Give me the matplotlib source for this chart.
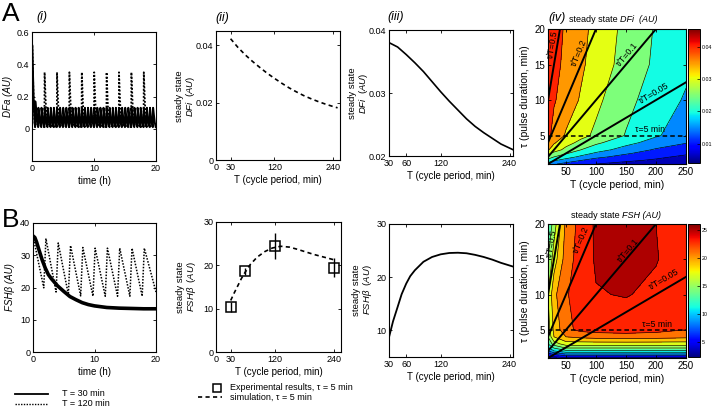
import numpy as np
import matplotlib
matplotlib.use('Agg')
import matplotlib.pyplot as plt
from matplotlib.lines import Line2D
from matplotlib.cm import ScalarMappable
from matplotlib.colors import Normalize

plt.rcParams['font.family'] = ['Liberation Sans', 'DejaVu Sans']
plt.rcParams['mathtext.fontset'] = 'custom'
plt.rcParams['mathtext.it'] = 'Liberation Sans:italic'
plt.rcParams['mathtext.rm'] = 'Liberation Sans'

W, H = 713, 412

# ---------------- data ----------------
# A(i): DFa time courses (pulse peaks)
dfa_peaks_30 = [0.52, 0.17] + [0.13] * 38      # T = 30 min, one pulse every 0.5 h
dfa_peaks_120 = [0.52] + [0.35] * 9             # T = 120 min, one pulse every 2 h
dfa_base = 0.01
pulse_dt = [0.0, 0.03, 0.10, 0.20, 0.30, 0.42]  # shape of one pulse (h after onset)
pulse_frac = [0.0, 1.0, 0.8, 0.5, 0.25, 0.05]

# A(ii): simulated steady-state DFi vs T (dashed)
T_sim_A2 = [30, 45, 60, 75, 90, 105, 120, 135, 150, 165, 180, 195, 210, 225, 240, 250]
dfi_sim_A2 = [0.0423, 0.0393, 0.0367, 0.0344, 0.0323, 0.0303, 0.0285, 0.0268, 0.0252,
              0.0238, 0.0225, 0.0214, 0.0204, 0.0195, 0.0187, 0.0182]

# A(iii): steady-state DFi vs T
T_A3 = [30, 45, 60, 75, 90, 105, 120, 135, 150, 165, 180, 195, 210, 225, 246]
dfi_A3 = [0.0380, 0.0373, 0.0361, 0.0348, 0.0334, 0.0318, 0.0302, 0.0287, 0.0273,
          0.0259, 0.0247, 0.0237, 0.0228, 0.0219, 0.0210]

# B(i): FSHb time courses
t_B1_30 = [0, 0.3, 0.6, 1, 1.5, 2, 2.5, 3, 4, 5, 6, 7, 8, 9, 10, 12, 14, 16, 18, 20]
fsh_B1_30 = [36, 35.5, 34, 31.5, 28.5, 26, 24, 22.7, 20.5, 18.8, 17.2, 16.2, 15.3, 14.7,
             14.3, 13.8, 13.6, 13.5, 13.4, 13.4]
fsh_peaks_120 = [36, 35.2, 33.8, 33.0, 32.4, 32.2, 32.2, 32.2, 32.2, 32.2]
fsh_troughs_120 = [19.9, 18.6, 17.8, 17.4, 17.3, 17.3, 17.3, 17.3, 17.3, 18.6]

# B(ii): experiments and simulation
T_exp = [30, 60, 120, 240]
fsh_exp = [10.4, 18.6, 24.4, 19.4]
fsh_err = [1.2, 0.9, 3.0, 2.2]
T_sim_B2 = [30, 37, 45, 52, 60, 70, 84, 100, 115, 132, 150, 166, 183, 200, 220, 240]
fsh_sim_B2 = [11.9, 13.6, 15.4, 17.0, 18.5, 20.2, 21.9, 23.2, 24.0, 24.4, 24.2, 23.7,
              23.1, 22.5, 21.9, 21.3]

# B(iii): steady-state FSHb vs T
T_B3 = [30, 37, 45, 52, 60, 67, 75, 90, 105, 120, 135, 150, 165, 180, 195, 210, 225, 246]
fsh_B3 = [8.7, 11.7, 14.4, 16.8, 18.8, 20.2, 21.3, 22.9, 23.8, 24.3, 24.55, 24.6, 24.5,
          24.2, 23.8, 23.3, 22.7, 22.0]

# (iv) maps: T (cycle period) x tau (pulse duration)
T_map = [20, 30, 50, 75, 100, 150, 200, 250]
tau_map = [1, 1.5, 2, 2.5, 3, 4, 5, 10, 15, 20]
dfi_map = [
    [0.015, 0.013, 0.011, 0.009, 0.008, 0.0065, 0.0055, 0.0045],
    [0.020, 0.0175, 0.015, 0.0125, 0.0108, 0.0088, 0.0073, 0.006],
    [0.025, 0.022, 0.019, 0.016, 0.0135, 0.011, 0.009, 0.007],
    [0.029, 0.026, 0.0225, 0.019, 0.0163, 0.013, 0.0105, 0.0088],
    [0.033, 0.030, 0.026, 0.022, 0.019, 0.015, 0.012, 0.0105],
    [0.0365, 0.033, 0.0295, 0.026, 0.023, 0.0185, 0.015, 0.0127],
    [0.039, 0.0355, 0.032, 0.029, 0.0265, 0.0217, 0.0175, 0.0145],
    [0.041, 0.038, 0.035, 0.032, 0.0287, 0.0235, 0.0195, 0.0165],
    [0.0415, 0.039, 0.0363, 0.0333, 0.0305, 0.0255, 0.021, 0.018],
    [0.042, 0.040, 0.0367, 0.0339, 0.0311, 0.0261, 0.0215, 0.0185],
]
fsh_map = [
    [3, 3, 3.5, 3.5, 3.5, 3.5, 3.5, 3.5],
    [5, 6, 7.5, 7.5, 7.5, 7.5, 7.5, 7.5],
    [8, 10, 11.5, 11.5, 11.5, 11.5, 11.5, 11.5],
    [10, 12.5, 14.5, 14.5, 14.5, 14.5, 14.5, 14.5],
    [12, 15, 17, 17, 17, 17, 17, 17],
    [14, 18, 20, 20.5, 20.8, 21, 20.8, 20.5],
    [15, 18.5, 21.5, 22.5, 22.8, 23, 22.7, 22],
    [16, 19.5, 21.8, 23, 23.9, 24.1, 23.6, 23],
    [14, 17, 21, 23, 24.2, 25.5, 24.1, 23],
    [12, 15, 20.5, 22.8, 24.3, 25.5, 24.0, 22.8],
]
ratios = [0.5, 0.2, 0.1, 0.05]
ratio_labels = ['τ/T=0.5', 'τ/T=0.2', 'τ/T=0.1', 'τ/T=0.05']

# ---------------- helpers ----------------
fig = plt.figure(figsize=(W / 100, H / 100), dpi=100)


def add_ax(l, r, t, b):
    return fig.add_axes([l / W, 1 - b / H, (r - l) / W, (b - t) / H])


def style(ax):
    ax.tick_params(direction='in', top=True, right=True, length=2.5, width=0.6,
                   labelsize=6.5, pad=2)
    for s in ax.spines.values():
        s.set_linewidth(0.8)


def ftext(x, y, s, **kw):
    fig.text(x / W, 1 - y / H, s, **kw)


def ylab2(x, y, top_line, it_line):
    ftext(x, y, top_line + '\n' + r'$\mathit{' + it_line + '}$', rotation=90,
          ha='center', va='center', fontsize=6.8, linespacing=1.05, multialignment='center')


def pulses(peaks, period, base):
    t, v = [], []
    for k, p in enumerate(peaks):
        t0 = k * period
        for dt, f in zip(pulse_dt, pulse_frac):
            t.append(t0 + dt)
            v.append(base + (p - base) * f)
    t.append(20.0)
    v.append(base)
    return t, v


# ---------------- A(i) ----------------
ax = add_ax(32, 156, 32, 161)
t, v = pulses(dfa_peaks_30, 0.5, dfa_base)
ax.plot(t, v, color='k', lw=1.4)
t, v = pulses(dfa_peaks_120, 2.0, dfa_base)
ax.plot(t, v, color='k', lw=1.3, ls=(0, (1, 1)))
ax.set_xlim(0, 20)
ax.set_ylim(-0.2, 0.6)
ax.set_xticks([0, 10, 20])
ax.set_yticks([0, 0.2, 0.4, 0.6])
ax.set_yticklabels(['0', '0.2', '0.4', '0.6'])
style(ax)
ax.set_xlabel('time (h)', fontsize=7, labelpad=2)
ftext(8, 96, 'DFa (AU)', rotation=90, ha='center', va='center', fontsize=7, style='italic')

# ---------------- A(ii) ----------------
ax = add_ax(216, 340, 31, 160)
ax.plot(T_sim_A2, dfi_sim_A2, color='k', lw=1.2, ls=(0, (2.5, 2)))
ax.set_xlim(0, 255)
ax.set_ylim(0, 0.045)
ax.set_xticks([0, 30, 120, 240])
ax.set_yticks([0, 0.02, 0.04])
ax.set_yticklabels(['0', '0.02', '0.04'])
style(ax)
ax.set_xlabel('T (cycle period, min)', fontsize=7, labelpad=2)
ylab2(186, 96, 'steady state', r'DFi\ \ (AU)')

# ---------------- A(iii) ----------------
ax = add_ax(389, 513, 30, 156)
ax.plot(T_A3, dfi_A3, color='k', lw=1.2)
ax.set_xlim(30, 246)
ax.set_ylim(0.02, 0.04)
ax.set_xticks([30, 60, 120, 240])
ax.set_yticks([0.02, 0.03, 0.04])
ax.set_yticklabels(['0.02', '0.03', '0.04'])
style(ax)
ax.set_xlabel('T (cycle period, min)', fontsize=7, labelpad=2)
ylab2(359, 93, 'steady state', r'DFi\ \ (AU)')


# ---------------- maps ----------------
def draw_map(top, bot, Z, levels, vmin, vmax, cticks, cticklabels, lab_pos, t5_pos):
    ax = add_ax(548, 686, top, bot)
    norm = Normalize(vmin=vmin, vmax=vmax)
    ax.contourf(T_map, tau_map, Z, levels=levels, cmap='jet', norm=norm, extend='both')
    ax.contour(T_map, tau_map, Z, levels=levels, colors='k', linewidths=0.45)
    for r, lab, (px, py) in zip(ratios, ratio_labels, lab_pos):
        T_end = min(250, 20 / r)
        ax.plot([20, T_end], [r * 20, r * T_end], color='k', lw=1.4)
        ax.text(px, py, lab, fontsize=6.3, rotation=np.degrees(np.arctan(r)),
                transform_rotates_text=True, rotation_mode='anchor',
                ha='center', va='center')
    ax.plot([20, 250], [5, 5], color='k', lw=1.1, ls=(0, (3, 2)))
    ax.text(t5_pos[0], t5_pos[1], 'τ=5 min', fontsize=6.3, ha='center', va='center')
    ax.set_xlim(20, 250)
    ax.set_ylim(1, 20)
    ax.set_xticks([50, 100, 150, 200, 250])
    ax.set_yticks([5, 10, 15, 20])
    style(ax)
    ax.tick_params(labelsize=7)
    ax.set_xlabel('T (cycle period, min)', fontsize=7.5, labelpad=2)
    cax = add_ax(688, 700, top, bot - 1)
    cb = fig.colorbar(ScalarMappable(norm=norm, cmap='jet'), cax=cax)
    cb.set_ticks(cticks)
    cb.set_ticklabels(cticklabels)
    cax.tick_params(direction='in', length=2, width=0.5, labelsize=3.8, pad=1)
    cb.outline.set_linewidth(0.7)
    return ax


ax = draw_map(29, 164, dfi_map,
              [0.004, 0.008, 0.0125, 0.017, 0.022, 0.0275, 0.0325, 0.0375, 0.043, 0.0455],
              0.004, 0.0455, [0.01, 0.02, 0.03, 0.04], ['0.01', '0.02', '0.03', '0.04'],
              [(28, 17.8), (72, 16.6), (152, 16.4), (197, 10.9)], (190, 5.8))
ftext(525, 96, 'τ (pulse duration, min)', rotation=90, ha='center', va='center', fontsize=7.5)
ftext(620, 20, 'steady state ', ha='right', va='center', fontsize=6.5)
ftext(620, 20, 'DFi  (AU)', ha='left', va='center', fontsize=6.5, style='italic')

ax = draw_map(224, 358, fsh_map, list(range(2, 28, 2)), 2.4, 26,
              [5, 10, 15, 20, 25], ['5', '10', '15', '20', '25'],
              [(27, 17.3), (75, 17.7), (153, 16.2), (214, 12.2)], (202, 5.7))
ftext(525, 291, 'τ (pulse duration, min)', rotation=90, ha='center', va='center', fontsize=7.5)
ftext(622, 216, 'steady state ', ha='right', va='center', fontsize=6.5)
ftext(622, 216, 'FSH (AU)', ha='left', va='center', fontsize=6.5, style='italic')

# ---------------- B(i) ----------------
ax = add_ax(33, 156, 223, 352)
ax.plot(t_B1_30, fsh_B1_30, color='k', lw=2.6)
tt, vv = [], []
for k, (p, tr) in enumerate(zip(fsh_peaks_120, fsh_troughs_120)):
    tt += [2 * k + (0.1 if k else 0.0), 2 * k + 1.75 if k < 9 else 20.0]
    vv += [p, tr]
ax.plot(tt, vv, color='k', lw=1.1, ls=(0, (1, 1)))
ax.set_xlim(0, 20)
ax.set_ylim(0, 40)
ax.set_xticks([0, 10, 20])
ax.set_yticks([0, 10, 20, 30, 40])
style(ax)
ax.set_xlabel('time (h)', fontsize=7, labelpad=2)
ftext(10, 287, 'FSHβ (AU)', rotation=90, ha='center', va='center', fontsize=7, style='italic')

# ---------------- B(ii) ----------------
ax = add_ax(216, 341, 222, 352)
ax.plot(T_sim_B2, fsh_sim_B2, color='k', lw=1.2, ls=(0, (2.5, 2)))
ax.errorbar(T_exp, fsh_exp, yerr=fsh_err, fmt='s', mfc='none', mec='k', ecolor='k',
            ms=6.5, mew=1.1, elinewidth=1.0, capsize=0)
ax.set_xlim(0, 255)
ax.set_ylim(0, 30)
ax.set_xticks([0, 30, 120, 240])
ax.set_yticks([0, 10, 20, 30])
style(ax)
ax.set_xlabel('T (cycle period, min)', fontsize=7, labelpad=2)
ylab2(187, 287, 'steady state', r'FSH\beta\ \ (AU)')

# ---------------- B(iii) ----------------
ax = add_ax(389, 513, 224, 357)
ax.plot(T_B3, fsh_B3, color='k', lw=1.3)
ax.set_xlim(30, 246)
ax.set_ylim(5, 30)
ax.set_xticks([30, 60, 120, 240])
ax.set_yticks([10, 20, 30])
style(ax)
ax.set_xlabel('T (cycle period, min)', fontsize=7, labelpad=2)
ylab2(363, 290, 'steady state', r'FSH\beta\ \ (AU)')

# ---------------- legends ----------------
fig.add_artist(Line2D([15 / W, 48 / W], [1 - 394 / H, 1 - 394 / H], color='k', lw=1.3))
fig.add_artist(Line2D([15 / W, 48 / W], [1 - 404 / H, 1 - 404 / H], color='k', lw=1.0,
                      ls=(0, (1, 1))))
ftext(62, 394, 'T = 30 min', va='center', fontsize=6.5)
ftext(62, 404, 'T = 120 min', va='center', fontsize=6.5)

fig.add_artist(Line2D([217 / W], [1 - 388 / H], marker='s', ms=6, mfc='none', mec='k', mew=1.1))
fig.add_artist(Line2D([198 / W, 222 / W], [1 - 397 / H, 1 - 397 / H], color='k', lw=1.2,
                      ls=(0, (2.5, 2))))
ftext(230, 388, 'Experimental results, τ = 5 min', va='center', fontsize=6.5)
ftext(230, 397, 'simulation, τ = 5 min', va='center', fontsize=6.5)

# ---------------- panel labels ----------------
ftext(2, 14, 'A', fontsize=19, va='center', ha='left')
ftext(2, 220, 'B', fontsize=19, va='center', ha='left')
ftext(36, 17, '(i)', fontsize=9, style='italic', va='center')
ftext(215, 18, '(ii)', fontsize=9, style='italic', va='center')
ftext(387, 17, '(iii)', fontsize=9, style='italic', va='center')
ftext(548, 18, '(iv)', fontsize=9, style='italic', va='center')

fig.savefig('out.png', dpi=100)
